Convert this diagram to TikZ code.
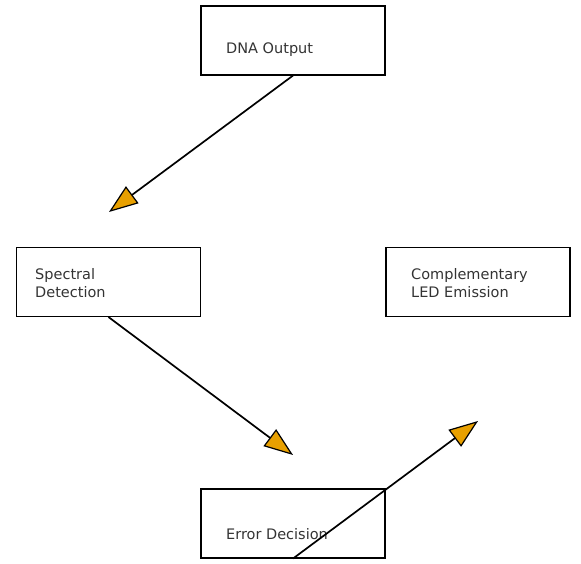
\documentclass[tikz,border=0pt]{standalone}
\usepackage{fontspec}
\setmainfont{DejaVu Sans}
\usetikzlibrary{arrows.meta}
\definecolor{tipfill}{HTML}{E8A000}
\definecolor{labelgray}{HTML}{333333}
\begin{document}
\begin{tikzpicture}[x=1pt,y=-1pt,
	stage/.style={draw,line width=1.1pt,minimum width=184pt,minimum height=69pt,inner sep=0pt},
	lbl/.style={anchor=base west,align=left,inner sep=0pt,text=labelgray,font=\fontsize{14.5}{18}\selectfont},
	flow/.style={line width=1.7pt,-{Triangle[length=29pt,width=21pt,fill=tipfill,line width=1.2pt]}}]
	\useasboundingbox (0,0) rectangle (581,564);
	% boxes
	\node[stage] (dna) at (293,40.5) {};
	\node[stage] (spec) at (108.5,282) {};
	\node[stage] (led) at (478,282) {};
	\node[stage] (err) at (293,523.5) {};
	% texts
	\node[lbl] (dnaT) at (226,54) {DNA Output};
	\node[lbl] (specT) at (35,297) {Spectral\\Detection};
	\node[lbl] (ledT) at (411,297) {Complementary\\LED Emission};
	\node[lbl] (errT) at (226,539) {Error Decision};
	% arrows
	\coordinate (tipA) at (109,212);
	\coordinate (tipB) at (293,455);
	\coordinate (tipC) at (478,421);
	\draw[flow] (dna.south) -- (tipA);
	\draw[flow] (spec.south) -- (tipB);
	\draw[flow] (err.south) -- (tipC);
\end{tikzpicture}
\end{document}
